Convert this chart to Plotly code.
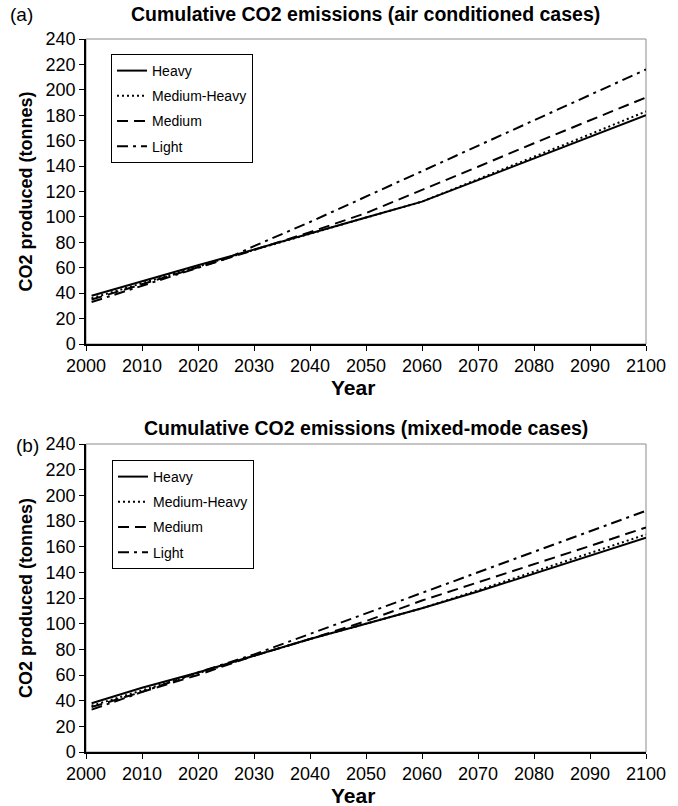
import plotly.graph_objects as go

years = [2001, 2010, 2020, 2025, 2030, 2040, 2050, 2060, 2070, 2080, 2090, 2100]
series_names = ["Heavy", "Medium-Heavy", "Medium", "Light"]

# (a) air conditioned cases
a_heavy = [38, 49.5, 62, 68, 74.5, 87, 99.5, 112, 129, 146, 163, 180]
a_medium_heavy = [36, 48, 61, 67.5, 74, 87, 99.5, 112, 129.5, 147, 165, 183]
a_medium = [35, 47, 60, 67, 74, 88, 103, 121, 139.5, 158, 176, 194]
a_light = [33, 46, 60, 67, 77, 96, 116, 136, 156, 176, 196, 216]

# (b) mixed-mode cases
b_heavy = [38, 50, 62, 68.5, 75, 88, 100, 112, 125, 139, 153, 167]
b_medium_heavy = [36, 48, 61, 68, 75, 88, 100, 112, 126, 140.5, 155, 169.5]
b_medium = [35, 47, 60, 67.5, 75, 88, 102, 118, 132, 146, 160.5, 175]
b_light = [33, 47, 62, 69, 76, 92, 108, 124, 140, 156, 172, 188]

x_ticks = list(range(2000, 2101, 10))
y_ticks = list(range(0, 241, 20))

FONT = "Arial, 'Liberation Sans', sans-serif"
dashes = ["solid", "2px,3px", "11px,6px", "11px,5px,3px,5px"]

W, H = 678, 806
def px_x(p): return p / W
def px_y(p): return 1 - p / H

fig = go.Figure()
for panel, data, xa, ya, leg in [
    ("a", [a_heavy, a_medium_heavy, a_medium, a_light], "x", "y", "legend"),
    ("b", [b_heavy, b_medium_heavy, b_medium, b_light], "x2", "y2", "legend2"),
]:
    for name, vals, d in zip(series_names, data, dashes):
        fig.add_trace(go.Scatter(
            x=years, y=vals, name=name, mode="lines",
            line=dict(color="black", width=2, dash=d),
            xaxis=xa, yaxis=ya, legend=leg,
            legendgroup=panel + name,
        ))

xd = [px_x(86), px_x(646)]
axis_common = dict(
    showgrid=False, zeroline=False, showline=True, linecolor="black", linewidth=1.5,
    ticks="outside", ticklen=5, tickcolor="black", tickwidth=1, automargin=False,
    tickfont=dict(family=FONT, size=18, color="black"),
)
ytitle = dict(text="<b>CO2 produced (tonnes)</b>", font=dict(size=18), standoff=8)
fig.update_layout(
    width=W, height=H,
    margin=dict(l=0, r=0, t=0, b=0),
    paper_bgcolor="white", plot_bgcolor="white",
    font=dict(family=FONT, color="black"),
    xaxis=dict(domain=xd, anchor="y", range=[2000, 2100], tickvals=x_ticks, **axis_common),
    yaxis=dict(domain=[px_y(344), px_y(39)], anchor="x", range=[0, 240], tickvals=y_ticks,
               title=ytitle, **axis_common),
    xaxis2=dict(domain=xd, anchor="y2", range=[2000, 2100], tickvals=x_ticks, **axis_common),
    yaxis2=dict(domain=[px_y(752), px_y(444)], anchor="x2", range=[0, 240], tickvals=y_ticks,
                title=ytitle, **axis_common),
    legend=dict(x=px_x(111), y=px_y(54), xanchor="left", yanchor="top",
                bordercolor="black", borderwidth=1, bgcolor="white",
                font=dict(family=FONT, size=14), tracegroupgap=4),
    legend2=dict(x=px_x(112), y=px_y(460), xanchor="left", yanchor="top",
                 bordercolor="black", borderwidth=1, bgcolor="white",
                 font=dict(family=FONT, size=14), tracegroupgap=4),
    showlegend=True,
)

# grey frame on top/right of plot areas
for xr, yr in [("x", "y"), ("x2", "y2")]:
    fig.add_shape(type="rect", xref=f"{xr} domain", yref=f"{yr} domain",
                  x0=0, x1=1, y0=0, y1=1, line=dict(color="#8c8c8c", width=1), layer="below")

texts = [
    ("<b>Cumulative CO2 emissions (air conditioned cases)</b>", 365, 14, 19.5, "center"),
    ("<b>Cumulative CO2 emissions (mixed-mode cases)</b>", 366, 428, 19.5, "center"),
    ("<b>Year</b>", 353, 387, 21, "center"),
    ("<b>Year</b>", 353, 795, 21, "center"),
    ("(a)", 8, 14, 19, "left"),
    ("(b)", 14, 445, 19, "left"),
]
for t, x, y, s, anc in texts:
    fig.add_annotation(text=t, x=px_x(x), y=px_y(y), xref="paper", yref="paper",
                       showarrow=False, xanchor=anc, yanchor="middle",
                       font=dict(family=FONT, size=s, color="black"))

fig.write_html("out.html")
